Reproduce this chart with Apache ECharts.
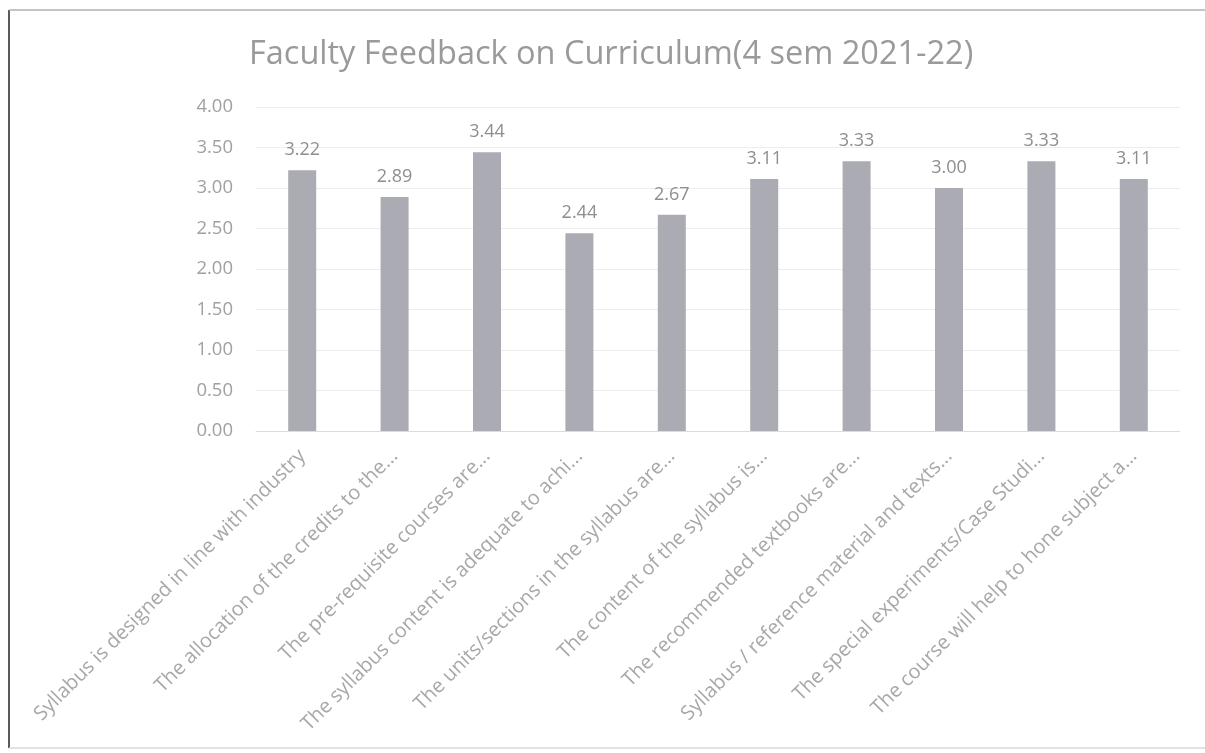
<!DOCTYPE html>
<html>
<head>
<meta charset="utf-8">
<script src="https://cdn.jsdelivr.net/npm/echarts@6/dist/echarts.min.js"></script>
<style>
html,body{margin:0;padding:0;background:#fff;}
#chart{width:1205px;height:753px;}
</style>
</head>
<body>
<div id="chart"></div>
<script>
const titleText = 'Faculty Feedback on Curriculum(4 sem 2021-22)';
const categories = [
  'Syllabus is designed in line with industry',
  'The allocation of the credits to the...',
  'The pre-requisite courses are...',
  'The syllabus content is adequate to achi...',
  'The units/sections in the syllabus are...',
  'The content of the syllabus is...',
  'The recommended textbooks are...',
  'Syllabus / reference material and texts...',
  'The special experiments/Case Studi...',
  'The course will help to hone subject a...'
];
const values = [3.22, 2.89, 3.44, 2.44, 2.67, 3.11, 3.33, 3.00, 3.33, 3.11];
const yTicks = { min: 0, max: 4, interval: 0.5 };

const chart = echarts.init(document.getElementById('chart'));
chart.setOption({
  backgroundColor: '#ffffff',
  animation: false,
  title: {
    text: titleText,
    left: 244,
    top: 33,
    textStyle: { fontFamily: 'Open Sans', fontSize: 32.5, fontWeight: 'normal', color: '#9a9a9a' }
  },
  graphic: [
    { type: 'line', shape: { x1: 9, y1: 10, x2: 9, y2: 748 }, style: { stroke: '#5a5a5a', lineWidth: 2 } },
    { type: 'line', shape: { x1: 9, y1: 10, x2: 1205, y2: 10 }, style: { stroke: '#b0b0b0', lineWidth: 1.5 } },
    { type: 'line', shape: { x1: 9, y1: 748, x2: 1205, y2: 748 }, style: { stroke: '#d8d8d8', lineWidth: 1.5 } }
  ],
  grid: { left: 256, right: 25, top: 107, bottom: 322, containLabel: false },
  xAxis: {
    type: 'category',
    data: categories,
    axisLine: { show: true, lineStyle: { color: '#dcdcdc' } },
    axisTick: { show: false },
    axisLabel: {
      interval: 0,
      rotate: 45,
      margin: 22,
      fontFamily: 'Open Sans',
      fontSize: 20,
      color: '#a8a8a8'
    }
  },
  yAxis: {
    type: 'value',
    min: yTicks.min,
    max: yTicks.max,
    interval: yTicks.interval,
    axisLine: { show: false },
    axisTick: { show: false },
    splitLine: { lineStyle: { color: '#ededed' } },
    axisLabel: {
      margin: 23,
      fontFamily: 'Open Sans',
      fontSize: 18.5,
      color: '#a0a0a0',
      formatter: v => v.toFixed(2)
    }
  },
  series: [{
    type: 'bar',
    data: values,
    barWidth: 28,
    itemStyle: { color: '#ababb3' },
    label: {
      show: true,
      position: 'top',
      distance: 11,
      fontFamily: 'Open Sans',
      fontSize: 18,
      color: '#8e8e8e',
      formatter: p => p.value.toFixed(2)
    }
  }]
});
</script>
</body>
</html>
